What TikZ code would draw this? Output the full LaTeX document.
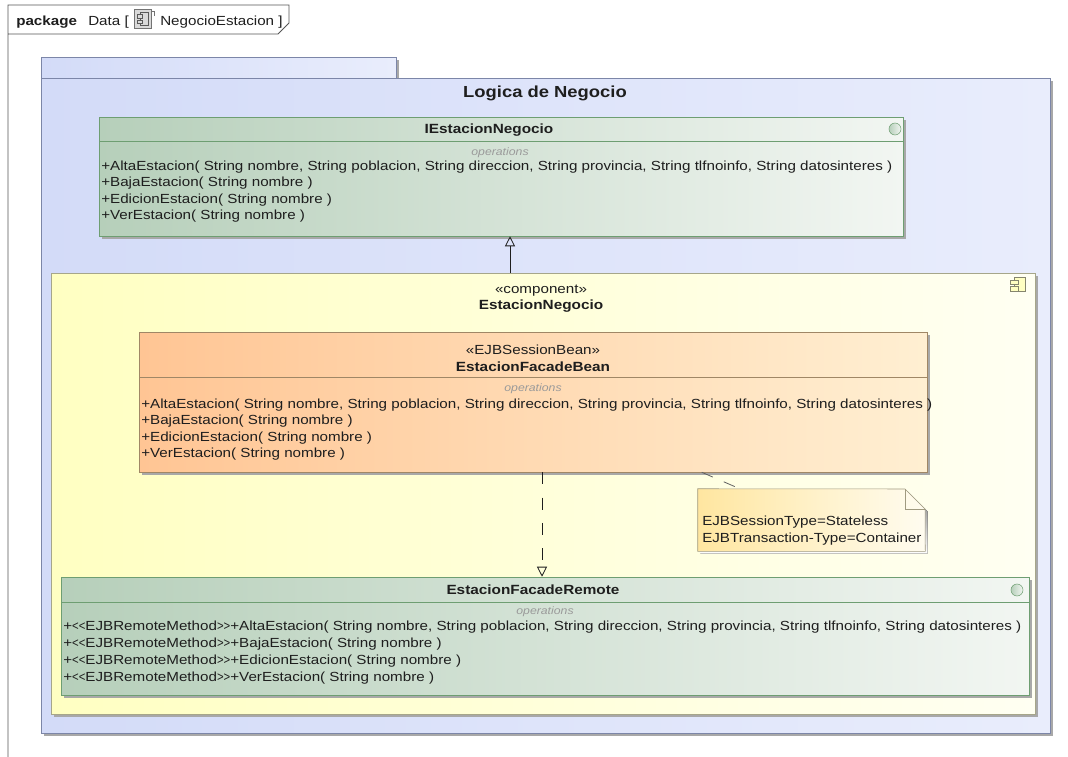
\documentclass[tikz,border=0pt]{standalone}
\usepackage{fontspec}
\setmainfont[FakeStretch=1.15]{Liberation Sans}
\usetikzlibrary{fit,shadows,arrows.meta,calc}

\definecolor{framecol}{HTML}{555555}
\definecolor{textcol}{HTML}{1E1E1E}
\definecolor{pkgA}{HTML}{D3DBF8}
\definecolor{pkgB}{HTML}{E9EDFC}
\definecolor{pkgLine}{HTML}{7C86A8}
\definecolor{ifcA}{HTML}{B6CFBA}
\definecolor{ifcB}{HTML}{F2F6F2}
\definecolor{ifcLine}{HTML}{6E9E72}
\definecolor{cmpA}{HTML}{FFFFC2}
\definecolor{cmpB}{HTML}{FFFFF2}
\definecolor{cmpLine}{HTML}{A6A68A}
\definecolor{beanA}{HTML}{FFC594}
\definecolor{beanB}{HTML}{FFEFD2}
\definecolor{beanLine}{HTML}{A08766}
\definecolor{noteA}{HTML}{FFE6A0}
\definecolor{noteB}{HTML}{FFFCF0}
\definecolor{noteLine}{HTML}{A09A80}
\definecolor{shade}{HTML}{A8A8A8}
\definecolor{opsgray}{HTML}{9A9A9A}

% narrow angle brackets of the remote-method stereotype
\newcommand{\lt}{\scalebox{0.75}[1]{<}}
\newcommand{\gt}{\scalebox{0.75}[1]{>}}
\newcommand{\remoteTag}{+\lt\lt EJBRemoteMethod\gt\gt}

\tikzset{
  boxshadow/.style={drop shadow={shadow xshift=2.2pt, shadow yshift=-2.2pt, fill=shade, opacity=1}},
  pkgbox/.style={fit={#1}, inner sep=0pt, draw=pkgLine, left color=pkgA, right color=pkgB, boxshadow},
  ifcbox/.style={fit={#1}, inner sep=0pt, draw=ifcLine, left color=ifcA, right color=ifcB, boxshadow},
  cmpbox/.style={fit={#1}, inner sep=0pt, draw=cmpLine, left color=cmpA, right color=cmpB, boxshadow},
  beanbox/.style={fit={#1}, inner sep=0pt, draw=beanLine, left color=beanA, right color=beanB, boxshadow},
  optext/.style={anchor=base west, inner sep=0pt, text=textcol, font=\fontsize{9.9}{11}\selectfont},
  hdrtext/.style={anchor=base west, inner sep=0pt, text=textcol, font=\fontsize{9.9}{11}\selectfont},
  stereo/.style={anchor=base, inner sep=0pt, text=textcol, font=\fontsize{9.9}{11}\selectfont},
  title/.style={anchor=base, inner sep=0pt, text=textcol, font=\bfseries\fontsize{10}{11}\selectfont},
  opslabel/.style={anchor=base, inner sep=0pt, text=opsgray, font=\itshape\fontsize{8}{10}\selectfont},
  lollipop/.style={circle, inner sep=0pt, minimum size=9pt, draw=ifcLine, left color=ifcA, right color=ifcB},
  realize/.style={draw=textcol, line width=0.6pt, -{Triangle[open, length=7.5pt, width=7.5pt]}},
}

\begin{document}
\begin{tikzpicture}[x=0.75pt, y=-0.75pt]
\useasboundingbox (0,0) rectangle (1068,757);
\fill[white] (0,0) rectangle (1068,757);

% diagram frame with its name tab
\draw[framecol, line width=0.6pt] (8,757) -- (8,5) -- (289,5) -- (289,23) -- (278,34) -- (8,34);
\node[hdrtext, font=\bfseries\fontsize{9.9}{11}\selectfont] (hdrKw) at (16,25) {package};
\node[hdrtext] (hdrA) at (88,25) {Data [};
\node[hdrtext] (hdrB) at (160,25) {NegocioEstacion ]};
% component glyph inside the tab
\node[fit={(134,9) (151,28)}, inner sep=0pt, draw=black!55, fill=black!15] (hdrIcon) {};
\draw[black!55, line width=0.5pt] (151,11) -- (154,11) -- (154,16);
\draw[black!65, line width=0.5pt] (140,12) rectangle (148,25);
\draw[black!65, fill=black!15, line width=0.5pt] (137.5,14.5) rectangle (142.5,18);
\draw[black!65, fill=black!15, line width=0.5pt] (137.5,20) rectangle (142.5,23.5);

% package "Logica de Negocio"
\node[pkgbox={(41,57) (396,78)}] (pkgTab) {};
\node[pkgbox={(41,78) (1050,733)}] (pkg) {};
\node[anchor=base, inner sep=0pt, text=textcol, font=\bfseries\fontsize{12}{14}\selectfont] (pkgName) at (545,97) {Logica de Negocio};

% interface IEstacionNegocio
\node[ifcbox={(99,117) (903,236)}] (ifc) {};
\draw[ifcLine] (99,141) -- (903,141);
\node[lollipop] (ifcIcon) at (895,129) {};
\node[title] (ifcName) at (489,133) {IEstacionNegocio};
\node[opslabel] (ifcOps) at (500,155) {operations};
\node[optext] (ifc1) at (101,170) {+AltaEstacion( String nombre, String poblacion, String direccion, String provincia, String tlfnoinfo, String datosinteres )};
\node[optext] (ifc2) at (101,186.5) {+BajaEstacion( String nombre )};
\node[optext] (ifc3) at (101,203) {+EdicionEstacion( String nombre )};
\node[optext] (ifc4) at (101,219.5) {+VerEstacion( String nombre )};

% component EstacionNegocio
\node[cmpbox={(51,273) (1035,714)}] (cmp) {};
\node[stereo] (cmpSt) at (541,293) {«component»};
\node[title] (cmpName) at (541,309) {EstacionNegocio};
% component glyph
\draw[cmpLine!80!black, fill=cmpA, line width=0.6pt] (1014,277) rectangle (1025,291);
\draw[cmpLine!80!black, fill=cmpA, line width=0.6pt] (1010,280) rectangle (1018,284.5);
\draw[cmpLine!80!black, fill=cmpA, line width=0.6pt] (1010,286.5) rectangle (1018,291);

% session bean
\node[beanbox={(139,332) (927,472)}] (bean) {};
\draw[beanLine] (139,377) -- (927,377);
\node[stereo] (beanSt) at (533,354) {«EJBSessionBean»};
\node[title] (beanName) at (533,371) {EstacionFacadeBean};
\node[opslabel] (beanOps) at (533,391) {operations};
\node[optext] (bean1) at (141,408.5) {+AltaEstacion( String nombre, String poblacion, String direccion, String provincia, String tlfnoinfo, String datosinteres )};
\node[optext] (bean2) at (141,424.5) {+BajaEstacion( String nombre )};
\node[optext] (bean3) at (141,441.5) {+EdicionEstacion( String nombre )};
\node[optext] (bean4) at (141,457.5) {+VerEstacion( String nombre )};

% note with folded corner
\node[fit={(698,489) (925,551)}, inner sep=0pt] (note) {};
\fill[shade] (700.5,491.5) -- (907.5,491.5) -- (927.5,511.5) -- (927.5,553.5) -- (700.5,553.5) -- cycle;
\draw[noteLine, left color=noteA, right color=noteB] (note.south west) -- (note.north west) -- (905,489) -- (925,509) -- (note.south east) -- cycle;
\draw[noteLine] (905,489) -- (905,509) -- (925,509);
\node[optext] (note1) at (702,525.5) {EJBSessionType=Stateless};
\node[optext] (note2) at (702,542.5) {EJBTransaction-Type=Container};

% remote interface
\node[ifcbox={(61,577) (1029,695)}] (remote) {};
\draw[ifcLine] (61,602) -- (1029,602);
\node[lollipop] (remIcon) at (1017,590) {};
\node[title] (remName) at (533,594) {EstacionFacadeRemote};
\node[opslabel] (remOps) at (545,614) {operations};
\node[optext] (rem1) at (63,630.5) {\remoteTag+AltaEstacion( String nombre, String poblacion, String direccion, String provincia, String tlfnoinfo, String datosinteres )};
\node[optext] (rem2) at (63,647.5) {\remoteTag+BajaEstacion( String nombre )};
\node[optext] (rem3) at (63,664.5) {\remoteTag+EdicionEstacion( String nombre )};
\node[optext] (rem4) at (63,681.5) {\remoteTag+VerEstacion( String nombre )};

% connectors
\coordinate (ax) at (510,0);
\coordinate (bx) at (542,0);
\draw[realize] (cmp.north -| ax) -- (ifc.south -| ax);
\draw[realize, dash pattern=on 9pt off 10pt] (bean.south -| bx) -- (remote.north -| bx);
\draw[textcol!70, line width=0.6pt, dash pattern=on 9pt off 9pt]
  ($(bean.south west)+(563,0)$) -- ($(note.north west)+(42,0)$);
\end{tikzpicture}
\end{document}
